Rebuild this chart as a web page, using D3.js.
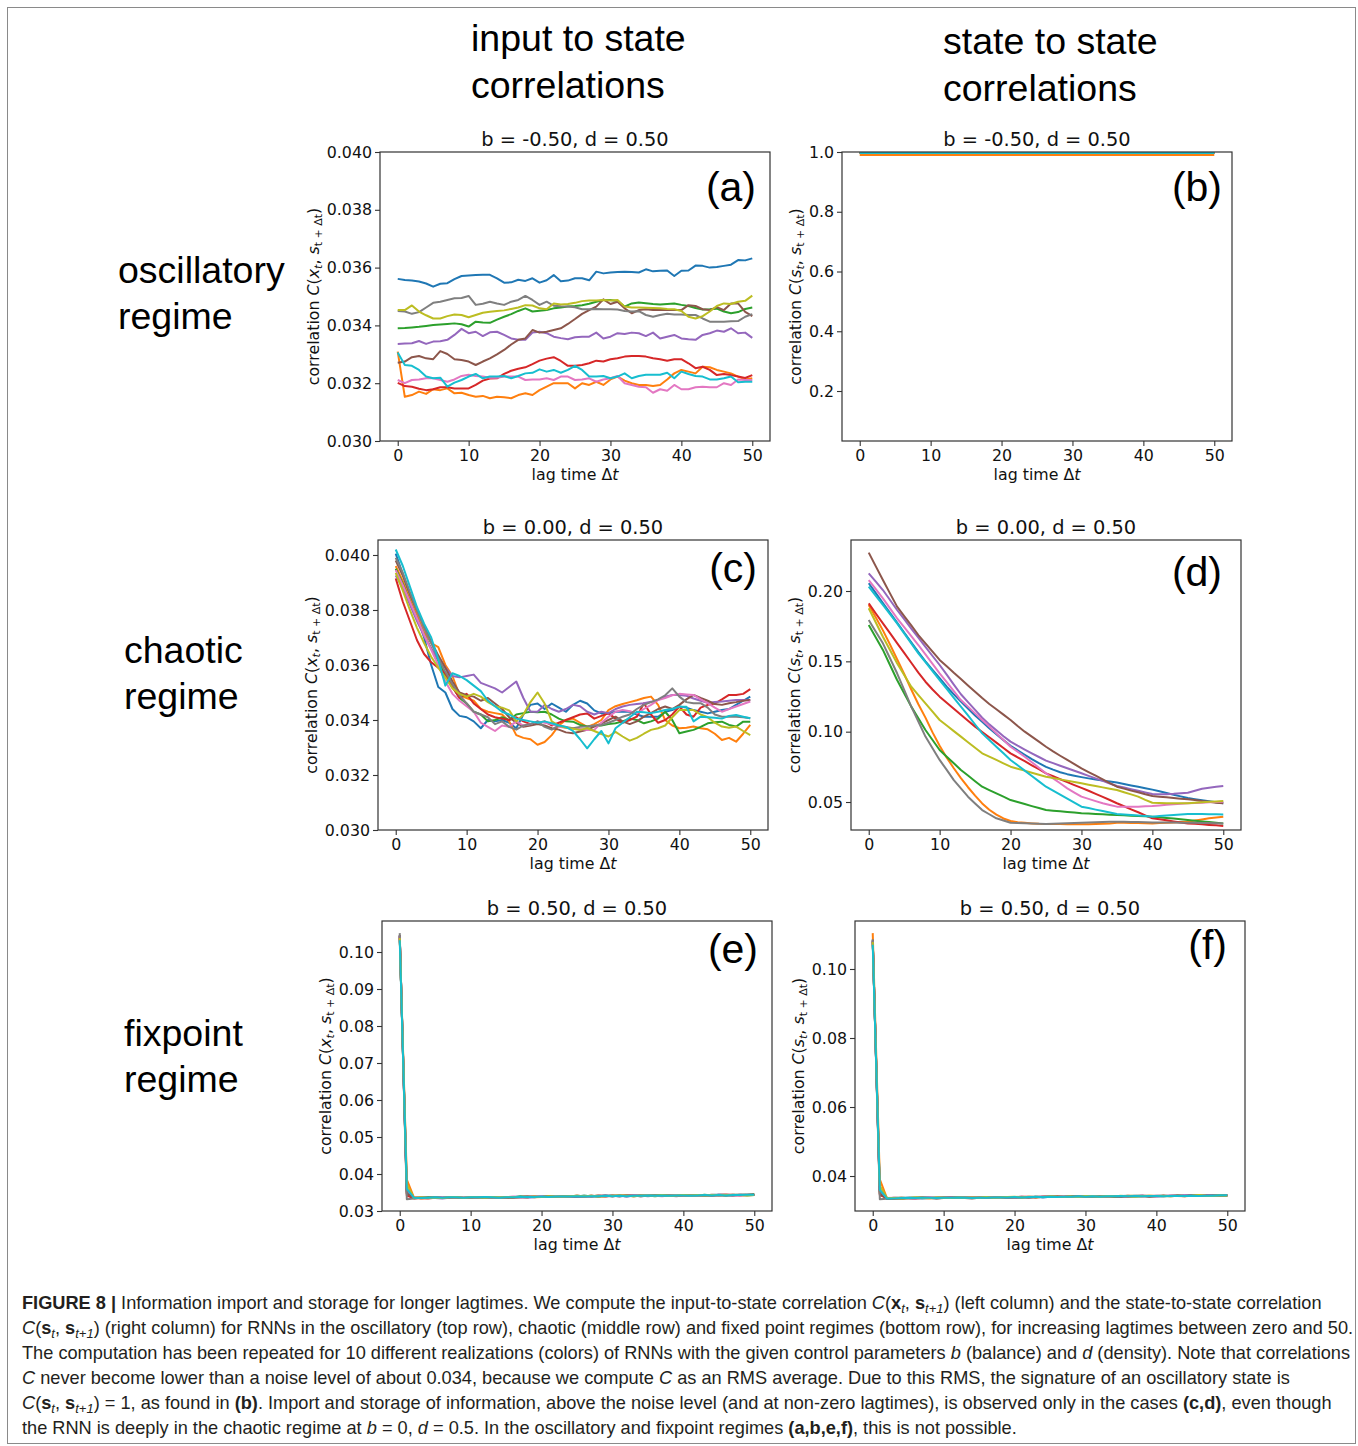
<!DOCTYPE html>
<html>
<head>
<meta charset="utf-8">
<script src="https://cdn.jsdelivr.net/npm/d3@7"></script>
<style>
  body { margin: 0; background: #fff; }
</style>
</head>
<body>
<div id="figure"></div>
<script>
// lag times 0..50 on the x axis
const lags = d3.range(0, 51);
const xTicks = [0, 10, 20, 30, 40, 50];
// matplotlib tab10, one colour per RNN realization
const colors = ["#1f77b4", "#ff7f0e", "#2ca02c", "#d62728", "#9467bd",
                "#8c564b", "#e377c2", "#7f7f7f", "#bcbd22", "#17becf"];

// (a) input to state, oscillatory regime, b = -0.50
const inputOsc = [
  [.03561,.03557,.03555,.03552,.03545,.03534,.03544,.03546,.03560,.03571,.03573,.03574,.03575,.03575,.03563,.03548,.03549,.03558,.03554,.03563,.03548,.03556,.03574,.03553,.03555,.03563,.03563,.03556,.03586,.03580,.03583,.03585,.03586,.03585,.03583,.03594,.03587,.03589,.03590,.03571,.03589,.03590,.03607,.03606,.03600,.03602,.03606,.03610,.03626,.03625,.03632],
  [.03309,.03153,.03159,.03171,.03163,.03179,.03176,.03182,.03165,.03167,.03159,.03153,.03156,.03148,.03153,.03151,.03148,.03159,.03165,.03159,.03176,.03188,.03200,.03200,.03200,.03182,.03200,.03194,.03205,.03194,.03213,.03223,.03209,.03200,.03194,.03194,.03190,.03194,.03213,.03234,.03246,.03240,.03234,.03257,.03255,.03246,.03240,.03234,.03223,.03213,.03217],
  [.03390,.03391,.03393,.03395,.03398,.03401,.03403,.03405,.03407,.03404,.03396,.03413,.03410,.03409,.03420,.03430,.03439,.03450,.03459,.03448,.03451,.03453,.03459,.03462,.03465,.03467,.03470,.03475,.03482,.03488,.03488,.03484,.03465,.03476,.03479,.03477,.03474,.03472,.03474,.03476,.03471,.03467,.03460,.03455,.03456,.03458,.03448,.03442,.03446,.03457,.03462],
  [.03201,.03190,.03188,.03181,.03176,.03179,.03186,.03186,.03182,.03182,.03182,.03194,.03209,.03216,.03217,.03232,.03243,.03250,.03255,.03266,.03278,.03285,.03290,.03277,.03260,.03260,.03263,.03269,.03278,.03275,.03283,.03286,.03292,.03294,.03294,.03292,.03286,.03283,.03278,.03283,.03283,.03269,.03252,.03257,.03246,.03228,.03232,.03228,.03223,.03218,.03228],
  [.03336,.03337,.03338,.03346,.03336,.03344,.03345,.03350,.03367,.03388,.03373,.03378,.03363,.03376,.03378,.03367,.03355,.03350,.03350,.03375,.03378,.03373,.03361,.03356,.03352,.03359,.03361,.03361,.03375,.03355,.03361,.03373,.03370,.03375,.03373,.03363,.03375,.03355,.03361,.03367,.03355,.03352,.03350,.03367,.03373,.03382,.03378,.03390,.03373,.03375,.03357],
  [.03271,.03275,.03290,.03294,.03286,.03283,.03311,.03301,.03283,.03280,.03275,.03263,.03275,.03286,.03300,.03315,.03334,.03350,.03355,.03384,.03375,.03378,.03384,.03390,.03405,.03422,.03440,.03453,.03465,.03490,.03474,.03482,.03459,.03442,.03453,.03456,.03453,.03453,.03453,.03453,.03453,.03470,.03467,.03456,.03453,.03463,.03453,.03476,.03476,.03447,.03432],
  [.03211,.03200,.03211,.03213,.03217,.03217,.03211,.03205,.03213,.03225,.03229,.03225,.03223,.03219,.03219,.03223,.03223,.03223,.03211,.03213,.03213,.03217,.03211,.03223,.03223,.03211,.03213,.03217,.03205,.03213,.03217,.03225,.03200,.03194,.03188,.03186,.03167,.03179,.03174,.03194,.03179,.03179,.03186,.03188,.03186,.03186,.03200,.03194,.03213,.03211,.03211],
  [.03450,.03448,.03440,.03446,.03462,.03478,.03482,.03488,.03494,.03495,.03502,.03471,.03475,.03482,.03476,.03471,.03482,.03488,.03502,.03488,.03471,.03482,.03468,.03466,.03465,.03463,.03456,.03456,.03457,.03456,.03456,.03455,.03450,.03448,.03449,.03436,.03430,.03436,.03440,.03438,.03438,.03436,.03436,.03424,.03413,.03413,.03413,.03414,.03415,.03430,.03439],
  [.03453,.03453,.03469,.03448,.03435,.03424,.03424,.03432,.03438,.03436,.03428,.03436,.03444,.03447,.03450,.03452,.03457,.03462,.03470,.03469,.03459,.03456,.03476,.03472,.03474,.03478,.03484,.03486,.03486,.03488,.03486,.03488,.03465,.03462,.03462,.03461,.03460,.03459,.03457,.03456,.03450,.03430,.03424,.03432,.03448,.03467,.03476,.03474,.03482,.03485,.03503],
  [.03306,.03263,.03260,.03246,.03223,.03217,.03219,.03188,.03202,.03211,.03223,.03232,.03217,.03223,.03223,.03225,.03217,.03225,.03234,.03236,.03248,.03240,.03246,.03236,.03246,.03260,.03246,.03223,.03223,.03225,.03217,.03223,.03234,.03217,.03225,.03229,.03229,.03229,.03236,.03217,.03240,.03232,.03225,.03223,.03213,.03213,.03217,.03223,.03203,.03205,.03205]
];

// (b) state to state, oscillatory regime: all realizations sit at ~1
const stateOsc = [
  [.997,.997,.997,.997,.997,.997,.997,.997,.997,.997,.997,.997,.997,.997,.997,.997,.997,.997,.997,.997,.997,.997,.997,.997,.997,.997,.997,.997,.997,.997,.997,.997,.997,.997,.997,.997,.997,.997,.997,.997,.997,.997,.997,.997,.997,.997,.997,.997,.997,.997,.997],
  [.990,.990,.990,.990,.990,.990,.990,.990,.990,.990,.990,.990,.990,.990,.990,.990,.990,.990,.990,.990,.990,.990,.990,.990,.990,.990,.990,.990,.990,.990,.990,.990,.990,.990,.990,.990,.990,.990,.990,.990,.990,.990,.990,.990,.990,.990,.990,.990,.990,.990,.990],
  [.997,.997,.997,.997,.997,.997,.997,.997,.997,.997,.997,.997,.997,.997,.997,.997,.997,.997,.997,.997,.997,.997,.997,.997,.997,.997,.997,.997,.997,.997,.997,.997,.997,.997,.997,.997,.997,.997,.997,.997,.997,.997,.997,.997,.997,.997,.997,.997,.997,.997,.997],
  [.997,.997,.997,.997,.997,.997,.997,.997,.997,.997,.997,.997,.997,.997,.997,.997,.997,.997,.997,.997,.997,.997,.997,.997,.997,.997,.997,.997,.997,.997,.997,.997,.997,.997,.997,.997,.997,.997,.997,.997,.997,.997,.997,.997,.997,.997,.997,.997,.997,.997,.997],
  [.997,.997,.997,.997,.997,.997,.997,.997,.997,.997,.997,.997,.997,.997,.997,.997,.997,.997,.997,.997,.997,.997,.997,.997,.997,.997,.997,.997,.997,.997,.997,.997,.997,.997,.997,.997,.997,.997,.997,.997,.997,.997,.997,.997,.997,.997,.997,.997,.997,.997,.997],
  [.997,.997,.997,.997,.997,.997,.997,.997,.997,.997,.997,.997,.997,.997,.997,.997,.997,.997,.997,.997,.997,.997,.997,.997,.997,.997,.997,.997,.997,.997,.997,.997,.997,.997,.997,.997,.997,.997,.997,.997,.997,.997,.997,.997,.997,.997,.997,.997,.997,.997,.997],
  [.997,.997,.997,.997,.997,.997,.997,.997,.997,.997,.997,.997,.997,.997,.997,.997,.997,.997,.997,.997,.997,.997,.997,.997,.997,.997,.997,.997,.997,.997,.997,.997,.997,.997,.997,.997,.997,.997,.997,.997,.997,.997,.997,.997,.997,.997,.997,.997,.997,.997,.997],
  [.997,.997,.997,.997,.997,.997,.997,.997,.997,.997,.997,.997,.997,.997,.997,.997,.997,.997,.997,.997,.997,.997,.997,.997,.997,.997,.997,.997,.997,.997,.997,.997,.997,.997,.997,.997,.997,.997,.997,.997,.997,.997,.997,.997,.997,.997,.997,.997,.997,.997,.997],
  [.997,.997,.997,.997,.997,.997,.997,.997,.997,.997,.997,.997,.997,.997,.997,.997,.997,.997,.997,.997,.997,.997,.997,.997,.997,.997,.997,.997,.997,.997,.997,.997,.997,.997,.997,.997,.997,.997,.997,.997,.997,.997,.997,.997,.997,.997,.997,.997,.997,.997,.997],
  [.997,.997,.997,.997,.997,.997,.997,.997,.997,.997,.997,.997,.997,.997,.997,.997,.997,.997,.997,.997,.997,.997,.997,.997,.997,.997,.997,.997,.997,.997,.997,.997,.997,.997,.997,.997,.997,.997,.997,.997,.997,.997,.997,.997,.997,.997,.997,.997,.997,.997,.997]
];

// (c) input to state, chaotic regime, b = 0.00
const inputChaos = [
  [.04005,.03930,.03850,.03780,.03700,.03600,.03520,.03500,.03440,.03415,.03410,.03395,.03370,.03400,.03395,.03400,.03390,.03370,.03420,.03455,.03460,.03440,.03460,.03445,.03430,.03455,.03470,.03460,.03435,.03424,.03424,.03430,.03430,.03430,.03420,.03412,.03412,.03412,.03430,.03436,.03449,.03445,.03436,.03430,.03424,.03430,.03436,.03440,.03455,.03470,.03485],
  [.03960,.03905,.03840,.03780,.03720,.03680,.03665,.03600,.03560,.03490,.03480,.03470,.03440,.03430,.03425,.03420,.03395,.03345,.03335,.03330,.03310,.03320,.03345,.03380,.03400,.03405,.03390,.03375,.03385,.03400,.03436,.03450,.03458,.03465,.03472,.03480,.03485,.03455,.03400,.03380,.03370,.03372,.03376,.03370,.03366,.03350,.03327,.03335,.03321,.03350,.03382],
  [.03950,.03895,.03830,.03770,.03710,.03660,.03615,.03560,.03520,.03480,.03460,.03430,.03420,.03395,.03400,.03410,.03400,.03420,.03425,.03430,.03428,.03430,.03420,.03405,.03395,.03394,.03382,.03376,.03378,.03380,.03385,.03388,.03395,.03405,.03400,.03388,.03395,.03405,.03430,.03400,.03352,.03358,.03364,.03375,.03388,.03392,.03394,.03382,.03376,.03394,.03394],
  [.03915,.03830,.03760,.03690,.03640,.03610,.03590,.03570,.03520,.03480,.03495,.03460,.03440,.03420,.03410,.03405,.03400,.03410,.03395,.03385,.03390,.03395,.03380,.03390,.03400,.03410,.03420,.03424,.03405,.03415,.03424,.03405,.03390,.03400,.03412,.03461,.03420,.03390,.03400,.03420,.03449,.03420,.03412,.03445,.03455,.03460,.03475,.03491,.03491,.03495,.03512],
  [.03925,.03880,.03820,.03760,.03705,.03660,.03620,.03590,.03560,.03555,.03560,.03565,.03535,.03525,.03515,.03500,.03520,.03540,.03480,.03430,.03430,.03455,.03440,.03430,.03440,.03455,.03450,.03430,.03420,.03430,.03425,.03440,.03449,.03455,.03458,.03461,.03466,.03473,.03485,.03491,.03491,.03488,.03478,.03470,.03463,.03465,.03467,.03470,.03473,.03473,.03473],
  [.03980,.03925,.03860,.03800,.03740,.03685,.03635,.03590,.03540,.03500,.03490,.03485,.03470,.03480,.03460,.03440,.03410,.03390,.03375,.03380,.03385,.03380,.03370,.03365,.03355,.03352,.03358,.03364,.03376,.03388,.03400,.03412,.03395,.03385,.03395,.03412,.03425,.03440,.03449,.03440,.03455,.03475,.03491,.03480,.03470,.03458,.03455,.03461,.03465,.03470,.03473],
  [.03945,.03890,.03830,.03770,.03710,.03655,.03600,.03540,.03495,.03470,.03450,.03430,.03390,.03375,.03360,.03380,.03375,.03395,.03380,.03385,.03395,.03390,.03385,.03375,.03372,.03370,.03367,.03364,.03364,.03390,.03412,.03430,.03436,.03432,.03424,.03440,.03455,.03473,.03480,.03490,.03495,.03493,.03491,.03475,.03461,.03445,.03430,.03440,.03449,.03458,.03467],
  [.03990,.03935,.03865,.03800,.03735,.03680,.03625,.03575,.03530,.03490,.03460,.03430,.03420,.03410,.03385,.03395,.03375,.03365,.03380,.03385,.03395,.03375,.03365,.03380,.03375,.03370,.03375,.03376,.03380,.03382,.03390,.03400,.03412,.03420,.03440,.03455,.03465,.03475,.03490,.03515,.03485,.03465,.03461,.03461,.03445,.03420,.03412,.03412,.03412,.03410,.03406],
  [.03935,.03870,.03800,.03735,.03680,.03630,.03590,.03555,.03515,.03495,.03485,.03495,.03485,.03465,.03450,.03445,.03435,.03395,.03420,.03465,.03500,.03460,.03395,.03380,.03372,.03368,.03364,.03370,.03360,.03349,.03340,.03357,.03340,.03325,.03335,.03350,.03364,.03370,.03380,.03410,.03436,.03436,.03436,.03420,.03410,.03390,.03376,.03372,.03376,.03360,.03345],
  [.04020,.03960,.03885,.03810,.03750,.03700,.03620,.03525,.03570,.03560,.03545,.03525,.03505,.03470,.03450,.03430,.03420,.03405,.03400,.03395,.03390,.03395,.03388,.03380,.03375,.03360,.03330,.03297,.03330,.03360,.03315,.03370,.03390,.03410,.03430,.03428,.03425,.03430,.03436,.03440,.03448,.03448,.03395,.03412,.03410,.03408,.03405,.03415,.03418,.03412,.03406]
];

// (d) state to state, chaotic regime
const stateChaos = [
  [.2055,.1985,.1915,.1845,.1775,.1705,.1635,.1565,.1500,.1440,.1380,.1320,.1265,.1215,.1165,.1115,.1070,.1025,.0982,.0940,.0900,.0868,.0836,.0805,.0776,.0750,.0730,.0712,.0698,.0687,.0677,.0668,.0660,.0652,.0645,.0638,.0628,.0618,.0608,.0598,.0588,.0576,.0564,.0552,.0540,.0528,.0520,.0512,.0505,.0498,.0491],
  [.1901,.1812,.1720,.1620,.1515,.1410,.1300,.1195,.1100,.0995,.0900,.0815,.0740,.0670,.0605,.0545,.0490,.0445,.0410,.0383,.0365,.0357,.0352,.0348,.0345,.0344,.0343,.0343,.0342,.0342,.0341,.0342,.0343,.0345,.0347,.0353,.0352,.0351,.0350,.0349,.0348,.0350,.0352,.0355,.0358,.0360,.0368,.0376,.0384,.0390,.0396],
  [.1758,.1670,.1581,.1474,.1367,.1273,.1178,.1095,.1012,.0941,.0870,.0822,.0775,.0727,.0688,.0648,.0609,.0585,.0561,.0538,.0514,.0500,.0486,.0471,.0457,.0443,.0438,.0434,.0429,.0425,.0420,.0418,.0415,.0413,.0410,.0408,.0406,.0403,.0401,.0398,.0396,.0391,.0386,.0382,.0377,.0372,.0367,.0362,.0358,.0353,.0348],
  [.1912,.1840,.1770,.1700,.1630,.1560,.1490,.1420,.1355,.1300,.1249,.1206,.1163,.1120,.1078,.1036,.0998,.0960,.0922,.0884,.0846,.0818,.0790,.0761,.0733,.0704,.0683,.0662,.0641,.0620,.0600,.0580,.0558,.0536,.0514,.0491,.0470,.0448,.0427,.0405,.0384,.0377,.0370,.0362,.0355,.0348,.0345,.0341,.0337,.0334,.0330],
  [.2126,.2067,.2007,.1936,.1865,.1800,.1733,.1668,.1603,.1538,.1474,.1405,.1335,.1266,.1210,.1155,.1100,.1052,.1010,.0968,.0929,.0900,.0873,.0846,.0820,.0794,.0776,.0758,.0740,.0722,.0704,.0686,.0668,.0650,.0632,.0614,.0603,.0591,.0580,.0568,.0557,.0556,.0556,.0558,.0562,.0566,.0580,.0594,.0602,.0608,.0614],
  [.2273,.2175,.2078,.1983,.1889,.1822,.1756,.1687,.1628,.1569,.1510,.1465,.1419,.1375,.1329,.1284,.1239,.1197,.1159,.1121,.1083,.1040,.1000,.0965,.0929,.0893,.0860,.0829,.0799,.0770,.0739,.0713,.0687,.0661,.0635,.0609,.0595,.0581,.0569,.0555,.0543,.0538,.0533,.0529,.0524,.0519,.0514,.0507,.0502,.0495,.0491],
  [.2078,.2013,.1948,.1877,.1806,.1743,.1679,.1616,.1549,.1482,.1415,.1352,.1288,.1225,.1178,.1130,.1083,.1036,.0988,.0941,.0893,.0858,.0822,.0783,.0743,.0704,.0668,.0633,.0597,.0567,.0538,.0522,.0506,.0491,.0479,.0467,.0467,.0467,.0467,.0470,.0472,.0476,.0480,.0484,.0488,.0491,.0493,.0495,.0498,.0500,.0502],
  [.1794,.1711,.1628,.1522,.1415,.1297,.1178,.1072,.0965,.0882,.0799,.0728,.0656,.0597,.0538,.0490,.0443,.0413,.0384,.0368,.0353,.0351,.0349,.0347,.0345,.0344,.0345,.0347,.0349,.0351,.0353,.0355,.0356,.0358,.0359,.0360,.0359,.0358,.0357,.0356,.0355,.0355,.0354,.0354,.0353,.0353,.0352,.0351,.0350,.0349,.0348],
  [.1877,.1776,.1675,.1580,.1486,.1403,.1320,.1260,.1201,.1142,.1083,.1044,.1004,.0965,.0925,.0886,.0846,.0822,.0799,.0775,.0751,.0737,.0723,.0708,.0694,.0680,.0671,.0661,.0652,.0642,.0633,.0623,.0614,.0604,.0595,.0585,.0569,.0554,.0538,.0515,.0495,.0493,.0492,.0492,.0491,.0491,.0494,.0498,.0501,.0504,.0507],
  [.2031,.1966,.1901,.1836,.1770,.1699,.1628,.1557,.1494,.1430,.1367,.1304,.1241,.1178,.1115,.1051,.0988,.0941,.0893,.0846,.0799,.0761,.0723,.0685,.0647,.0609,.0581,.0552,.0524,.0495,.0467,.0457,.0446,.0436,.0425,.0415,.0411,.0407,.0404,.0400,.0396,.0400,.0404,.0408,.0411,.0415,.0415,.0414,.0413,.0413,.0412]
];

// (e) input to state, fixpoint regime, b = 0.50
const inputFix = [
  [.1045,.0352,.0335,.0336,.0337,.0336,.0337,.0338,.0336,.0337,.0338,.0337,.0337,.0338,.0337,.0336,.0338,.0339,.0338,.0337,.0339,.0339,.0338,.0340,.0339,.0340,.0341,.0340,.0339,.0341,.0341,.0340,.0341,.0342,.0340,.0341,.0342,.0343,.0342,.0341,.0342,.0343,.0342,.0342,.0343,.0344,.0343,.0342,.0344,.0343,.0344],
  [.1040,.0385,.0337,.0334,.0335,.0336,.0337,.0336,.0335,.0337,.0336,.0338,.0337,.0336,.0338,.0337,.0336,.0338,.0339,.0337,.0338,.0340,.0339,.0338,.0340,.0341,.0339,.0340,.0342,.0341,.0340,.0342,.0341,.0340,.0342,.0341,.0343,.0342,.0341,.0343,.0342,.0341,.0343,.0342,.0341,.0343,.0344,.0342,.0343,.0344,.0343],
  [.1042,.0348,.0336,.0335,.0337,.0336,.0336,.0338,.0337,.0336,.0338,.0337,.0338,.0336,.0337,.0338,.0337,.0339,.0338,.0339,.0338,.0339,.0340,.0339,.0340,.0339,.0341,.0340,.0341,.0340,.0342,.0341,.0340,.0342,.0341,.0342,.0340,.0342,.0343,.0342,.0341,.0343,.0342,.0344,.0342,.0343,.0342,.0344,.0343,.0344,.0345],
  [.1043,.0342,.0334,.0335,.0334,.0336,.0337,.0335,.0336,.0337,.0336,.0337,.0336,.0338,.0337,.0336,.0337,.0338,.0337,.0339,.0338,.0338,.0339,.0340,.0338,.0340,.0339,.0341,.0340,.0339,.0341,.0340,.0342,.0341,.0340,.0342,.0341,.0342,.0343,.0341,.0342,.0341,.0343,.0342,.0343,.0342,.0343,.0344,.0342,.0343,.0344],
  [.1044,.0356,.0335,.0337,.0336,.0335,.0334,.0336,.0337,.0335,.0336,.0338,.0337,.0336,.0335,.0337,.0338,.0337,.0336,.0338,.0339,.0338,.0339,.0338,.0340,.0339,.0340,.0339,.0341,.0342,.0340,.0341,.0339,.0341,.0342,.0340,.0342,.0341,.0342,.0340,.0342,.0343,.0341,.0343,.0342,.0344,.0343,.0342,.0343,.0344,.0343],
  [.1046,.0346,.0336,.0336,.0335,.0337,.0336,.0336,.0338,.0337,.0336,.0338,.0337,.0337,.0338,.0336,.0337,.0338,.0339,.0338,.0339,.0340,.0338,.0339,.0340,.0340,.0339,.0341,.0340,.0341,.0340,.0342,.0341,.0341,.0342,.0341,.0342,.0341,.0343,.0342,.0341,.0342,.0343,.0342,.0344,.0343,.0342,.0343,.0344,.0343,.0344],
  [.1041,.0362,.0337,.0336,.0335,.0336,.0338,.0337,.0336,.0338,.0337,.0336,.0338,.0337,.0338,.0337,.0339,.0337,.0338,.0339,.0340,.0338,.0340,.0339,.0339,.0341,.0340,.0340,.0341,.0339,.0342,.0341,.0340,.0342,.0341,.0343,.0341,.0340,.0342,.0343,.0342,.0342,.0341,.0343,.0342,.0343,.0345,.0343,.0342,.0344,.0343],
  [.1051,.0332,.0334,.0336,.0335,.0337,.0336,.0337,.0336,.0335,.0337,.0336,.0337,.0338,.0336,.0338,.0337,.0337,.0339,.0338,.0338,.0339,.0338,.0340,.0339,.0341,.0340,.0339,.0340,.0341,.0341,.0340,.0342,.0340,.0341,.0342,.0343,.0341,.0342,.0341,.0343,.0342,.0342,.0343,.0341,.0344,.0343,.0343,.0344,.0342,.0343],
  [.1038,.0372,.0336,.0337,.0336,.0336,.0335,.0337,.0338,.0336,.0337,.0337,.0336,.0338,.0337,.0337,.0338,.0338,.0337,.0339,.0338,.0340,.0339,.0339,.0340,.0341,.0340,.0341,.0339,.0340,.0341,.0342,.0341,.0340,.0342,.0342,.0341,.0343,.0341,.0342,.0343,.0342,.0343,.0342,.0343,.0343,.0344,.0343,.0343,.0342,.0343],
  [.1032,.0360,.0336,.0335,.0336,.0337,.0336,.0337,.0337,.0336,.0337,.0337,.0338,.0337,.0336,.0337,.0337,.0338,.0338,.0338,.0339,.0338,.0339,.0339,.0339,.0340,.0339,.0340,.0340,.0341,.0340,.0341,.0340,.0341,.0341,.0342,.0341,.0342,.0341,.0342,.0342,.0341,.0342,.0343,.0342,.0343,.0342,.0343,.0343,.0344,.0344]
];

// (f) state to state, fixpoint regime
const stateFix = [
  [.1085,.0355,.0334,.0335,.0334,.0336,.0337,.0335,.0336,.0337,.0336,.0337,.0336,.0338,.0337,.0336,.0337,.0338,.0337,.0339,.0338,.0338,.0339,.0340,.0338,.0340,.0339,.0341,.0340,.0339,.0341,.0340,.0342,.0341,.0340,.0342,.0341,.0342,.0343,.0341,.0342,.0341,.0343,.0342,.0343,.0342,.0343,.0344,.0342,.0343,.0344],
  [.1104,.0390,.0336,.0334,.0335,.0336,.0337,.0336,.0335,.0337,.0336,.0338,.0337,.0336,.0338,.0337,.0336,.0338,.0339,.0337,.0338,.0340,.0339,.0338,.0340,.0341,.0339,.0340,.0342,.0341,.0340,.0342,.0341,.0340,.0342,.0341,.0343,.0342,.0341,.0343,.0342,.0341,.0343,.0342,.0341,.0343,.0344,.0342,.0343,.0344,.0343],
  [.1080,.0350,.0335,.0336,.0337,.0336,.0337,.0338,.0336,.0337,.0338,.0337,.0337,.0338,.0337,.0336,.0338,.0339,.0338,.0337,.0339,.0339,.0338,.0340,.0339,.0340,.0341,.0340,.0339,.0341,.0341,.0340,.0341,.0342,.0340,.0341,.0342,.0343,.0342,.0341,.0342,.0343,.0342,.0342,.0343,.0344,.0343,.0342,.0344,.0343,.0344],
  [.1082,.0345,.0336,.0335,.0337,.0336,.0336,.0338,.0337,.0336,.0338,.0337,.0338,.0336,.0337,.0338,.0337,.0339,.0338,.0339,.0338,.0339,.0340,.0339,.0340,.0339,.0341,.0340,.0341,.0340,.0342,.0341,.0340,.0342,.0341,.0342,.0340,.0342,.0343,.0342,.0341,.0343,.0342,.0344,.0342,.0343,.0342,.0344,.0343,.0344,.0345],
  [.1079,.0358,.0336,.0336,.0335,.0337,.0336,.0336,.0338,.0337,.0336,.0338,.0337,.0337,.0338,.0336,.0337,.0338,.0339,.0338,.0339,.0340,.0338,.0339,.0340,.0340,.0339,.0341,.0340,.0341,.0340,.0342,.0341,.0341,.0342,.0341,.0342,.0341,.0343,.0342,.0341,.0342,.0343,.0342,.0344,.0343,.0342,.0343,.0344,.0343,.0344],
  [.1083,.0348,.0335,.0337,.0336,.0335,.0334,.0336,.0337,.0335,.0336,.0338,.0337,.0336,.0335,.0337,.0338,.0337,.0336,.0338,.0339,.0338,.0339,.0338,.0340,.0339,.0340,.0339,.0341,.0342,.0340,.0341,.0339,.0341,.0342,.0340,.0342,.0341,.0342,.0340,.0342,.0343,.0341,.0343,.0342,.0344,.0343,.0342,.0343,.0344,.0343],
  [.1081,.0362,.0336,.0337,.0336,.0336,.0335,.0337,.0338,.0336,.0337,.0337,.0336,.0338,.0337,.0337,.0338,.0338,.0337,.0339,.0338,.0340,.0339,.0339,.0340,.0341,.0340,.0341,.0339,.0340,.0341,.0342,.0341,.0340,.0342,.0342,.0341,.0343,.0341,.0342,.0343,.0342,.0343,.0342,.0343,.0343,.0344,.0343,.0343,.0342,.0343],
  [.1086,.0333,.0334,.0336,.0335,.0337,.0336,.0337,.0336,.0335,.0337,.0336,.0337,.0338,.0336,.0338,.0337,.0337,.0339,.0338,.0338,.0339,.0338,.0340,.0339,.0341,.0340,.0339,.0340,.0341,.0341,.0340,.0342,.0340,.0341,.0342,.0343,.0341,.0342,.0341,.0343,.0342,.0342,.0343,.0341,.0344,.0343,.0343,.0344,.0342,.0343],
  [.1078,.0372,.0337,.0336,.0335,.0336,.0338,.0337,.0336,.0338,.0337,.0336,.0338,.0337,.0338,.0337,.0339,.0337,.0338,.0339,.0340,.0338,.0340,.0339,.0339,.0341,.0340,.0340,.0341,.0339,.0342,.0341,.0340,.0342,.0341,.0343,.0341,.0340,.0342,.0343,.0342,.0342,.0341,.0343,.0342,.0343,.0345,.0343,.0342,.0344,.0343],
  [.1070,.0360,.0335,.0335,.0336,.0337,.0336,.0337,.0337,.0336,.0337,.0337,.0338,.0337,.0336,.0337,.0337,.0338,.0338,.0338,.0339,.0338,.0339,.0339,.0339,.0340,.0339,.0340,.0340,.0341,.0340,.0341,.0340,.0341,.0341,.0342,.0341,.0342,.0341,.0342,.0342,.0341,.0342,.0343,.0342,.0343,.0342,.0343,.0343,.0344,.0344]
];

const ticksA = [0.030, 0.032, 0.034, 0.036, 0.038, 0.040];
const ticksB = [0.2, 0.4, 0.6, 0.8, 1.0];
const ticksC = [0.030, 0.032, 0.034, 0.036, 0.038, 0.040];
const ticksD = [0.05, 0.10, 0.15, 0.20];
const ticksE = [0.03, 0.04, 0.05, 0.06, 0.07, 0.08, 0.09, 0.10];
const ticksF = [0.04, 0.06, 0.08, 0.10];

const W = 1358, H = 1446;
const tickFont = "DejaVu Sans, sans-serif";
const headFont = "Liberation Sans, Arial, sans-serif";

const svg = d3.select("#figure").append("svg")
    .attr("width", W)
    .attr("height", H);

svg.append("rect").attr("width", W).attr("height", H).attr("fill", "#fff");
svg.append("rect")
    .attr("x", 7.5).attr("y", 7.5)
    .attr("width", 1348).attr("height", 1436)
    .attr("fill", "none").attr("stroke", "#8a8a8a").attr("stroke-width", 1);

// column headers and row labels
const heads = [
  {t: "input to state", x: 471, y: 51}, {t: "correlations", x: 471, y: 98},
  {t: "state to state", x: 943, y: 54}, {t: "correlations", x: 943, y: 101},
  {t: "oscillatory", x: 118, y: 283}, {t: "regime", x: 118, y: 329},
  {t: "chaotic", x: 124, y: 663}, {t: "regime", x: 124, y: 709},
  {t: "fixpoint", x: 124, y: 1046}, {t: "regime", x: 124, y: 1092}
];
svg.selectAll(".head")
    .data(heads)
    .enter()
    .append("text")
    .attr("class", "head")
    .attr("x", d => d.x)
    .attr("y", d => d.y)
    .attr("font-family", headFont)
    .attr("font-size", 37.5)
    .attr("fill", "#000")
    .text(d => d.t);

const panels = [
  {data: inputOsc, left: 380, top: 152, h: 289, dom: [0.030, 0.040], ticks: ticksA, fmt: ".3f", v: "x", title: "b = -0.50, d = 0.50", tag: "(a)", tagX: 756, tagY: 201},
  {data: stateOsc, left: 842, top: 152, h: 289, dom: [0.0327, 1.0], ticks: ticksB, fmt: ".1f", v: "s", title: "b = -0.50, d = 0.50", tag: "(b)", tagX: 1222, tagY: 201},
  {data: inputChaos, left: 378, top: 540, h: 290, dom: [0.030, 0.040545], ticks: ticksC, fmt: ".3f", v: "x", title: "b = 0.00, d = 0.50", tag: "(c)", tagX: 757, tagY: 582},
  {data: stateChaos, left: 851, top: 540, h: 290, dom: [0.0301, 0.23626], ticks: ticksD, fmt: ".2f", v: "s", title: "b = 0.00, d = 0.50", tag: "(d)", tagX: 1222, tagY: 586},
  {data: inputFix, left: 382, top: 921, h: 290, dom: [0.030, 0.10838], ticks: ticksE, fmt: ".2f", v: "x", title: "b = 0.50, d = 0.50", tag: "(e)", tagX: 758, tagY: 963},
  {data: stateFix, left: 855, top: 921, h: 290, dom: [0.02986, 0.11391], ticks: ticksF, fmt: ".2f", v: "s", title: "b = 0.50, d = 0.50", tag: "(f)", tagX: 1227, tagY: 959}
];

const plotW = 390;
const fs = 15.8;

panels.forEach((p, k) => {
    const g = svg.append("g").attr("transform", "translate(" + p.left + "," + p.top + ")");
    const x = d3.scaleLinear().domain([-2.5, 52.5]).range([0, plotW]);
    const y = d3.scaleLinear().domain(p.dom).range([p.h, 0]);

    svg.append("clipPath").attr("id", "clip" + k)
        .append("rect").attr("width", plotW).attr("height", p.h);

    const line = d3.line()
        .x((d, i) => x(lags[i]))
        .y(d => y(d));

    g.append("g")
        .attr("clip-path", "url(#clip" + k + ")")
        .selectAll("path")
        .data(p.data)
        .enter()
        .append("path")
        .attr("d", line)
        .attr("fill", "none")
        .attr("stroke", (d, i) => colors[i])
        .attr("stroke-width", 2)
        .attr("stroke-linejoin", "round");

    const xAxis = g.append("g")
        .attr("transform", "translate(0," + p.h + ")")
        .call(d3.axisBottom(x).tickValues(xTicks).tickSize(5).tickPadding(4).tickSizeOuter(0));
    const yAxis = g.append("g")
        .call(d3.axisLeft(y).tickValues(p.ticks).tickFormat(d3.format(p.fmt)).tickSize(5).tickPadding(3).tickSizeOuter(0));

    [xAxis, yAxis].forEach(a => {
        a.attr("font-family", tickFont).attr("font-size", fs);
        a.select(".domain").remove();
        a.selectAll("line").attr("stroke", "#333").attr("stroke-width", 1.1);
        a.selectAll("text").attr("fill", "#111");
    });

    g.append("rect")
        .attr("width", plotW)
        .attr("height", p.h)
        .attr("fill", "none")
        .attr("stroke", "#333")
        .attr("stroke-width", 1.2);

    // subplot title
    g.append("text")
        .attr("x", plotW / 2)
        .attr("y", -6)
        .attr("text-anchor", "middle")
        .attr("font-family", tickFont)
        .attr("font-size", 19.4)
        .attr("fill", "#111")
        .text(p.title);

    // x label: lag time Δt
    const xl = g.append("text")
        .attr("x", plotW / 2)
        .attr("y", p.h + 39)
        .attr("text-anchor", "middle")
        .attr("font-family", tickFont)
        .attr("font-size", fs)
        .attr("fill", "#111");
    xl.append("tspan").text("lag time Δ");
    xl.append("tspan").attr("font-style", "italic").text("t");

    // y label: correlation C(x_t, s_{t+Δt})
    const bb = yAxis.node().getBBox();
    const yl = g.append("text")
        .attr("transform", "translate(" + (bb.x - 8) + "," + (p.h / 2) + ") rotate(-90)")
        .attr("text-anchor", "middle")
        .attr("font-family", tickFont)
        .attr("font-size", fs)
        .attr("fill", "#111");
    yl.append("tspan").text("correlation ");
    yl.append("tspan").attr("font-style", "italic").text("C");
    yl.append("tspan").text("(");
    yl.append("tspan").attr("font-style", "italic").text(p.v);
    yl.append("tspan").attr("font-style", "italic").attr("font-size", 11).attr("dy", 3.5).text("t");
    yl.append("tspan").attr("dy", -3.5).text(", ");
    yl.append("tspan").attr("font-style", "italic").text("s");
    yl.append("tspan").attr("font-size", 11).attr("dy", 3.5).text("t + Δt");
    yl.append("tspan").attr("dy", -3.5).text(")");

    // panel tag
    g.append("text")
        .attr("x", p.tagX - p.left)
        .attr("y", p.tagY - p.top)
        .attr("text-anchor", "end")
        .attr("font-family", headFont)
        .attr("font-size", 41)
        .attr("fill", "#000")
        .text(p.tag);
});

// caption, one entry per line: [text, style]
const caption = [
  [["FIGURE 8 | ", "b"], ["Information import and storage for longer lagtimes. We compute the input-to-state correlation "], ["C", "i"], ["("], ["x", "b"], ["t", "sub"], [", "], ["s", "b"], ["t+1", "sub"], [") (left column) and the state-to-state correlation"]],
  [["C", "i"], ["("], ["s", "b"], ["t", "sub"], [", "], ["s", "b"], ["t+1", "sub"], [") (right column) for RNNs in the oscillatory (top row), chaotic (middle row) and fixed point regimes (bottom row), for increasing lagtimes between zero and 50."]],
  [["The computation has been repeated for 10 different realizations (colors) of RNNs with the given control parameters "], ["b", "i"], [" (balance) and "], ["d", "i"], [" (density). Note that correlations"]],
  [["C", "i"], [" never become lower than a noise level of about 0.034, because we compute "], ["C", "i"], [" as an RMS average. Due to this RMS, the signature of an oscillatory state is"]],
  [["C", "i"], ["("], ["s", "b"], ["t", "sub"], [", "], ["s", "b"], ["t+1", "sub"], [") = 1, as found in "], ["(b)", "b"], [". Import and storage of information, above the noise level (and at non-zero lagtimes), is observed only in the cases "], ["(c,d)", "b"], [", even though"]],
  [["the RNN is deeply in the chaotic regime at "], ["b", "i"], [" = 0, "], ["d", "i"], [" = 0.5. In the oscillatory and fixpoint regimes "], ["(a,b,e,f)", "b"], [", this is not possible."]]
];

caption.forEach((segs, li) => {
    const t = svg.append("text")
        .attr("x", 22)
        .attr("y", 1309 + li * 25)
        .attr("font-family", headFont)
        .attr("font-size", 18.2)
        .attr("fill", "#231f20");
    let down = false;
    segs.forEach(s => {
        const ts = t.append("tspan").text(s[0]);
        if (s[1] === "b") ts.attr("font-weight", "bold");
        if (s[1] === "i") ts.attr("font-style", "italic");
        if (s[1] === "sub") {
            ts.attr("font-style", "italic").attr("font-size", 13).attr("dy", 4);
            down = true;
        } else if (down) {
            ts.attr("dy", -4);
            down = false;
        }
    });
});
</script>
</body>
</html>
